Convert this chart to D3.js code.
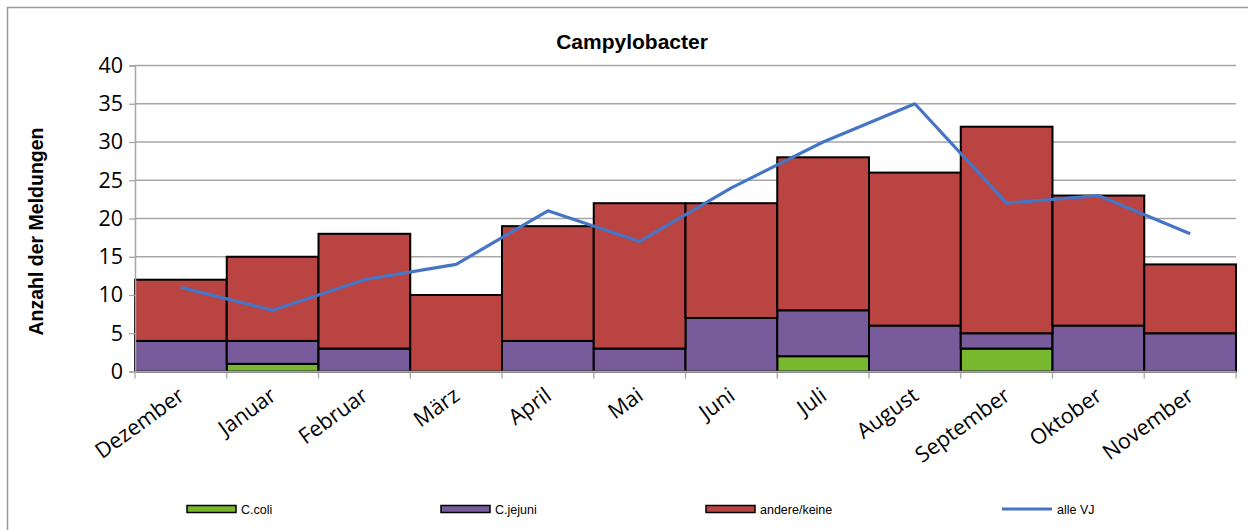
<!DOCTYPE html>
<html>
<head>
<meta charset="utf-8">
<script src="https://cdn.jsdelivr.net/npm/d3@7"></script>
<style>
  body { margin: 0; background: #fff; }
</style>
</head>
<body>
<div id="chart"></div>
<script>
// data
var months = ["Dezember", "Januar", "Februar", "März", "April", "Mai",
              "Juni", "Juli", "August", "September", "Oktober", "November"];
var coli   = [0, 1, 0, 0, 0, 0, 0, 2, 0, 3, 0, 0];
var jejuni = [4, 3, 3, 0, 4, 3, 7, 6, 6, 2, 6, 5];
var andere = [8, 11, 15, 10, 15, 19, 15, 20, 20, 27, 17, 9];
var alleVJ = [11, 8, 12, 14, 21, 17, 24, 30, 35, 22, 23, 18];
var yTicks = [0, 5, 10, 15, 20, 25, 30, 35, 40];

var seriesNames = ["C.coli", "C.jejuni", "andere/keine"];
var seriesColors = ["#77b82f", "#785b9b", "#b94442"];
var lineColor = "#4675c6";

var W = 1248, H = 530;
var margin = {top: 65.5, left: 135, right: 12, bottom: 158};

var svg = d3.select("#chart")
  .append("svg")
    .attr("width", W)
    .attr("height", H);

// outer chart border
svg.append("rect")
  .attr("x", 7.5).attr("y", 7.5)
  .attr("width", W).attr("height", H)
  .attr("fill", "none")
  .attr("stroke", "#9a9a9a")
  .attr("stroke-width", 1.5);

var x = d3.scaleBand()
  .domain(months)
  .range([margin.left, W - margin.right])
  .padding(0);

var y = d3.scaleLinear()
  .domain([0, 40])
  .range([H - margin.bottom - 0.5, margin.top]);

// gridlines
svg.append("g")
  .selectAll("line")
  .data(yTicks.slice(1))
  .enter().append("line")
    .attr("x1", margin.left)
    .attr("x2", W - margin.right)
    .attr("y1", function(d) { return y(d); })
    .attr("y2", function(d) { return y(d); })
    .attr("stroke", "#a6a6a6")
    .attr("stroke-width", 1.3);

// stacked bars
var table = months.map(function(m, i) {
  return {month: m, coli: coli[i], jejuni: jejuni[i], andere: andere[i]};
});
var stack = d3.stack().keys(["coli", "jejuni", "andere"]);
var layers = stack(table);

svg.append("g")
  .selectAll("g")
  .data(layers)
  .enter().append("g")
    .attr("fill", function(d, i) { return seriesColors[i]; })
  .selectAll("rect")
  .data(function(d) { return d.filter(function(v) { return v[1] - v[0] > 0; }); })
  .enter().append("rect")
    .attr("x", function(d) { return x(d.data.month); })
    .attr("width", x.bandwidth())
    .attr("y", function(d) { return y(d[1]); })
    .attr("height", function(d) { return y(d[0]) - y(d[1]); })
    .attr("stroke", "#000")
    .attr("stroke-width", 2);

// y axis
var yAxis = svg.append("g")
  .attr("transform", "translate(" + margin.left + ",0)")
  .call(d3.axisLeft(y).tickValues(yTicks).tickSize(6).tickPadding(6));
yAxis.select(".domain").attr("stroke", "#a6a6a6").attr("stroke-width", 1.5);
yAxis.selectAll(".tick line").attr("stroke", "#a6a6a6").attr("stroke-width", 1.3);
yAxis.selectAll("text")
  .attr("font-family", "Open Sans, Noto Sans, sans-serif")
  .attr("font-size", 21.5)
  .attr("fill", "#000");

// x axis: ticks at category boundaries
var xAxisG = svg.append("g");
xAxisG.append("line")
  .attr("x1", margin.left).attr("x2", W - margin.right)
  .attr("y1", y(0)).attr("y2", y(0))
  .attr("stroke", "#a6a6a6").attr("stroke-width", 1.5);
var bounds = months.map(function(m) { return x(m); }).concat([x.range()[1]]);
xAxisG.selectAll(".bt")
  .data(bounds)
  .enter().append("line")
    .attr("x1", function(d) { return d; })
    .attr("x2", function(d) { return d; })
    .attr("y1", y(0))
    .attr("y2", y(0) + 7)
    .attr("stroke", "#a6a6a6")
    .attr("stroke-width", 1.3);
xAxisG.selectAll("text")
  .data(months)
  .enter().append("text")
    .attr("transform", function(d) {
      return "translate(" + (x(d) + x.bandwidth() / 2 + 5) + "," + (y(0) + 27) + ") rotate(-36)";
    })
    .attr("text-anchor", "end")
    .attr("font-family", "Open Sans, Noto Sans, sans-serif")
    .attr("font-size", 21.5)
    .attr("fill", "#000")
    .text(function(d) { return d; });

// line "alle VJ"
svg.append("path")
  .datum(alleVJ)
  .attr("fill", "none")
  .attr("stroke", lineColor)
  .attr("stroke-width", 3.2)
  .attr("stroke-linejoin", "round")
  .attr("d", d3.line()
    .x(function(d, i) { return x(months[i]) + x.bandwidth() / 2; })
    .y(function(d) { return y(d); }));

// title
svg.append("text")
  .attr("x", 632).attr("y", 49)
  .attr("text-anchor", "middle")
  .attr("font-family", "Liberation Sans, Arial, sans-serif")
  .attr("font-weight", "bold")
  .attr("font-size", 21)
  .text("Campylobacter");

// y axis title
svg.append("text")
  .attr("transform", "translate(43," + ((y(0) + y(40)) / 2 + 13) + ") rotate(-90)")
  .attr("text-anchor", "middle")
  .attr("font-family", "Liberation Sans, Arial, sans-serif")
  .attr("font-weight", "bold")
  .attr("font-size", 19.5)
  .text("Anzahl der Meldungen");

// legend
var legendX = [187, 441, 706, 1002];
var legendY = 509;
var leg = svg.append("g");
seriesNames.forEach(function(name, i) {
  leg.append("rect")
    .attr("x", legendX[i]).attr("y", legendY - 3.5)
    .attr("width", 49).attr("height", 7)
    .attr("fill", seriesColors[i])
    .attr("stroke", "#000").attr("stroke-width", 1.5);
  leg.append("text")
    .attr("x", legendX[i] + 54).attr("y", legendY + 4.5)
    .attr("font-family", "Liberation Sans Narrow, Liberation Sans, Arial, sans-serif")
    .attr("font-size", 12.5)
    .text(name);
});
leg.append("line")
  .attr("x1", legendX[3]).attr("x2", legendX[3] + 50)
  .attr("y1", legendY).attr("y2", legendY)
  .attr("stroke", lineColor).attr("stroke-width", 3.2);
leg.append("text")
  .attr("x", legendX[3] + 55).attr("y", legendY + 4.5)
  .attr("font-family", "Liberation Sans Narrow, Liberation Sans, Arial, sans-serif")
  .attr("font-size", 12.5)
  .text("alle VJ");
</script>
</body>
</html>
